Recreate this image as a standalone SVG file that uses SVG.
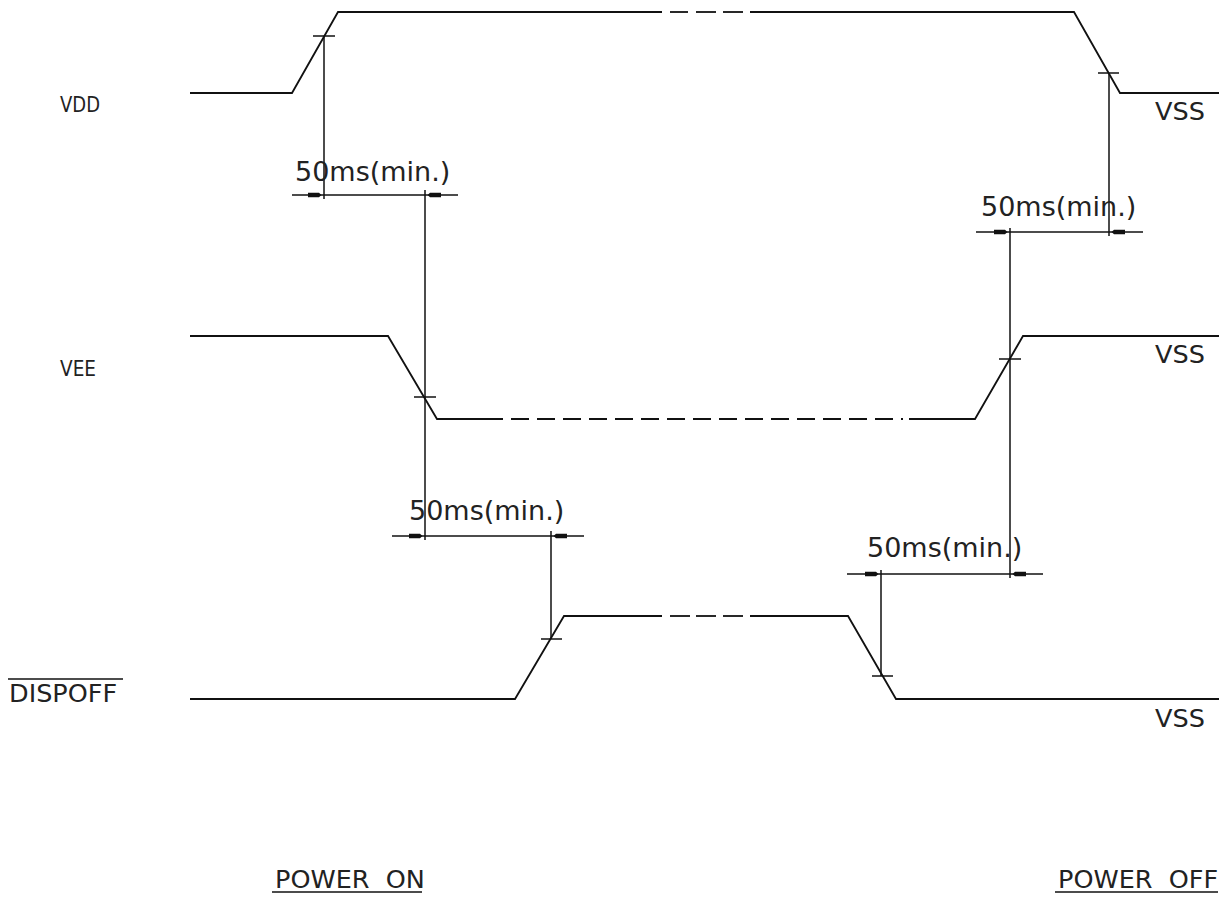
<svg xmlns="http://www.w3.org/2000/svg" width="1219" height="898" viewBox="0 0 1219 898">
<style>
.w{fill:none;stroke:#111;stroke-width:1.8;stroke-linejoin:miter}
.d{fill:none;stroke:#111;stroke-width:1.8;stroke-dasharray:18 8}
.k{fill:none;stroke:#111;stroke-width:1.5}
.lb{font-family:"DejaVu Sans","Liberation Sans",sans-serif;font-size:25.5px;fill:#222;white-space:pre}
.sm{font-family:"DejaVu Sans","Liberation Sans",sans-serif;font-size:22px;fill:#222}
.dm{font-family:"DejaVu Sans","Liberation Sans",sans-serif;font-size:27px;fill:#222}
.ah{fill:#111}
</style>
<defs>
<path id="ah" d="M-16,-2.3 L-5,-2.3 L-2.5,0 L-5,2.3 L-16,2.3 Z"/>
</defs>
<rect width="1219" height="898" fill="#fff"/>

<g id="labels">
<text class="sm" x="60" y="112" textLength="40" lengthAdjust="spacingAndGlyphs">VDD</text>
<text class="sm" x="60" y="376" textLength="36" lengthAdjust="spacingAndGlyphs">VEE</text>
<text class="lb" x="9" y="702">DISPOFF</text>
<line class="k" x1="8" y1="679" x2="123" y2="679"/>
<text class="lb" x="1155" y="120">VSS</text>
<text class="lb" x="1155" y="363">VSS</text>
<text class="lb" x="1155" y="727">VSS</text>
<text class="lb" x="275" y="888">POWER  ON</text>
<line class="k" x1="272" y1="892" x2="422" y2="892"/>
<text class="lb" x="1058" y="888">POWER  OFF</text>
<line class="k" x1="1055" y1="892" x2="1218" y2="892"/>
</g>

<g id="vdd">
<polyline class="w" points="190,93 292,93 338,12 662,12"/>
<line class="w" x1="670" y1="12" x2="688" y2="12"/>
<line class="w" x1="696" y1="12" x2="716" y2="12"/>
<line class="w" x1="723" y1="12" x2="743" y2="12"/>
<polyline class="w" points="750,12 1074,12 1120,93 1219,93"/>
</g>

<g id="vee">
<polyline class="w" points="190,336 388,336 437,419 503,419"/>
<line class="d" x1="511" y1="419" x2="903" y2="419"/>
<polyline class="w" points="909,419 975,419 1023,336 1219,336"/>
</g>

<g id="dispoff">
<polyline class="w" points="190,699 515,699 564,616 662,616"/>
<line class="w" x1="670" y1="616" x2="690" y2="616"/>
<line class="w" x1="696" y1="616" x2="716" y2="616"/>
<line class="w" x1="723" y1="616" x2="743" y2="616"/>
<polyline class="w" points="750,616 848,616 896,699 1219,699"/>
</g>

<g id="connectors">
<line class="k" x1="313" y1="36" x2="335" y2="36"/>
<line class="k" x1="414" y1="397" x2="436" y2="397"/>
<line class="k" x1="541" y1="639" x2="562" y2="639"/>
<line class="k" x1="872" y1="676" x2="893" y2="676"/>
<line class="k" x1="999" y1="359" x2="1021" y2="359"/>
<line class="k" x1="1098" y1="73" x2="1119" y2="73"/>
<line class="k" x1="324" y1="36" x2="324" y2="199"/>
<line class="k" x1="425" y1="190" x2="425" y2="540"/>
<line class="k" x1="551" y1="531" x2="551" y2="639"/>
<line class="k" x1="881" y1="570" x2="881" y2="676"/>
<line class="k" x1="1010" y1="228" x2="1010" y2="578"/>
<line class="k" x1="1109" y1="73" x2="1109" y2="236"/>
<line class="k" x1="292" y1="195" x2="458" y2="195"/>
<line class="k" x1="392" y1="536" x2="584" y2="536"/>
<line class="k" x1="976" y1="232" x2="1143" y2="232"/>
<line class="k" x1="847" y1="574" x2="1043" y2="574"/>
<use href="#ah" class="ah" transform="translate(324,195)"/>
<use href="#ah" class="ah" transform="translate(425,195) scale(-1,1)"/>
<use href="#ah" class="ah" transform="translate(425,536)"/>
<use href="#ah" class="ah" transform="translate(551,536) scale(-1,1)"/>
<use href="#ah" class="ah" transform="translate(1010,232)"/>
<use href="#ah" class="ah" transform="translate(1109,232) scale(-1,1)"/>
<use href="#ah" class="ah" transform="translate(881,574)"/>
<use href="#ah" class="ah" transform="translate(1010,574) scale(-1,1)"/>
<text class="dm" x="295" y="181">50ms(min.)</text>
<text class="dm" x="409" y="520">50ms(min.)</text>
<text class="dm" x="981" y="216">50ms(min.)</text>
<text class="dm" x="867" y="557">50ms(min.)</text>
</g>
</svg>
